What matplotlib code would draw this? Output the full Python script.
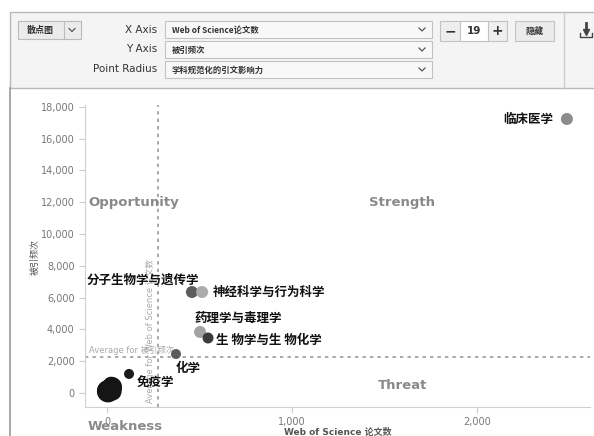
import matplotlib.pyplot as plt
from matplotlib.patches import Rectangle
from matplotlib.ticker import FuncFormatter

plt.rcParams['font.family'] = ['DejaVu Sans', 'Noto Sans CJK SC']
CJK = ['Noto Sans CJK SC', 'DejaVu Sans']

# data
subjects = ['临床医学', '分子生物学与遗传学', '神经科学与行为科学', '药理学与毒理学',
            '生 物学与生 物化学', '化学', '免疫学']
papers = [2486, 459, 514, 503, 546, 373, 119]
cites = [17230, 6350, 6350, 3840, 3460, 2450, 1200]
cnci = [1.2, 1.2, 1.2, 1.2, 1.1, 1.0, 1.0]

# unlabelled subjects crowded near the origin
small_papers = [5, 12, 20, 27, 35, 8, 15, 3, 40, 22, 10, 30]
small_cites = [100, 250, 180, 380, 300, 60, 420, 150, 200, 520, 330, 90]
small_cnci = [2.2, 1.8, 2.0, 2.0, 1.6, 1.9, 1.5, 2.1, 1.4, 1.6, 1.7, 1.8]

avg_papers = 276
avg_cites = 2264

# styles
colors = ['#8c8c8c', '#5c5c5c', '#ababab', '#a3a3a3', '#3c3c3c', '#5c5c5c', '#1c1c1c']
label_off = [(-14, 0, 'right'), (7, 12, 'right'), (11, 0, 'left'), (-6, 13, 'left'),
             (8, -2, 'left'), (0, -14, 'left'), (8, -9, 'left')]


def size(c):
    r = 5 * c  # radius in px
    return (2 * r * 0.72) ** 2


fig = plt.figure(figsize=(5.94, 4.36), dpi=100)

# ---- toolbar drawn in pixel coordinates
ui = fig.add_axes([0, 0, 1, 1])
ui.set_xlim(0, 594)
ui.set_ylim(436, 0)
ui.axis('off')

ui.add_patch(Rectangle((10, 12), 600, 76, facecolor='#f4f4f4', edgecolor='#b8b8b8', lw=1))
ui.plot([564, 564], [12, 88], color='#cccccc', lw=1)
ui.plot([10, 10], [88, 436], color='#999999', lw=1.2)

# chart-type dropdown
ui.add_patch(Rectangle((18, 21), 63, 18, facecolor='#ebebeb', edgecolor='#bbbbbb', lw=0.8))
ui.plot([64, 64], [21, 39], color='#bbbbbb', lw=0.8)
ui.text(40, 30.5, '散点图', family=CJK, fontsize=6.5, weight='bold', color='#333333',
        ha='center', va='center')


def chevron(x, y):
    ui.plot([x - 3, x, x + 3], [y - 1.5, y + 1.5, y - 1.5], color='#555555', lw=0.9)


chevron(72, 30)

for lab, y in zip(['X Axis', 'Y Axis', 'Point Radius'], [30, 49.5, 69.5]):
    ui.text(157, y, lab, fontsize=7.5, color='#333333', ha='right', va='center')

for txt, (y0, y1) in zip(['Web of Science论文数', '被引频次', '学科规范化的引文影响力'],
                         [(21, 38), (41, 58), (61, 78)]):
    ui.add_patch(Rectangle((165, y0), 267, y1 - y0, facecolor='#f8f8f8',
                           edgecolor='#c2c2c2', lw=0.8))
    ui.text(172, (y0 + y1) / 2 + 0.5, txt, family=CJK, fontsize=6, weight='bold',
            color='#333333', va='center')
    chevron(422, (y0 + y1) / 2)

# stepper
ui.add_patch(Rectangle((440, 21), 67, 20, facecolor='#eeeeee', edgecolor='#c2c2c2', lw=0.8))
ui.add_patch(Rectangle((460, 21), 28, 20, facecolor='white', edgecolor='#c2c2c2', lw=0.8))
ui.text(450, 31.5, '−', fontsize=10, weight='bold', color='#333333', ha='center', va='center')
ui.text(474, 31, '19', fontsize=7.5, weight='bold', color='#333333', ha='center', va='center')
ui.text(497, 31, '+', fontsize=10, weight='bold', color='#333333', ha='center', va='center')

ui.add_patch(Rectangle((515, 21), 39, 20, facecolor='#ebebeb', edgecolor='#c2c2c2', lw=0.8))
ui.text(534.5, 31, '隐藏', family=CJK, fontsize=6.5, weight='bold', color='#333333',
        ha='center', va='center')

# download icon
ui.plot([586, 586], [23, 31], color='#444444', lw=2)
ui.plot([586], [32], marker='v', color='#444444', markersize=5)
ui.plot([580, 580, 592, 592], [33, 37, 37, 33], color='#444444', lw=1)

# ---- scatter chart
ax = fig.add_axes([85 / 594, 29 / 436, 505 / 594, 302 / 436])
ax.set_facecolor('none')
ax.set_xlim(-119, 2611)
ax.set_ylim(-880, 18110)

for s in ['top', 'right']:
    ax.spines[s].set_visible(False)
for s in ['left', 'bottom']:
    ax.spines[s].set_color('#d0d0d0')

ax.set_xticks([0, 1000, 2000])
ax.set_yticks(range(0, 18001, 2000))
fmt = FuncFormatter(lambda v, p: f'{v:,.0f}')
ax.xaxis.set_major_formatter(fmt)
ax.yaxis.set_major_formatter(fmt)
ax.tick_params(colors='#cccccc', labelcolor='#777777', labelsize=7, length=4, width=0.8)

ax.axvline(avg_papers, color='#999999', lw=1.2, ls=(0, (2, 2.5)), zorder=1)
ax.axhline(avg_cites, color='#999999', lw=1.2, ls=(0, (2, 2.5)), zorder=1)
ax.text(-97, 2700, 'Average for 被引频次', fontsize=6, color='#aaaaaa', va='center')
ax.text(232, -600, 'Average for Web of Science 论文数', fontsize=6, color='#aaaaaa',
        rotation=90, ha='center', va='bottom')

ax.scatter(small_papers, small_cites, s=[size(c) for c in small_cnci],
           color='#151515', edgecolor='none', zorder=3)
ax.scatter(papers, cites, s=[size(c) for c in cnci], c=colors, edgecolor='none', zorder=3)

for name, x, y, (dx, dy, ha) in zip(subjects, papers, cites, label_off):
    ax.annotate(name, (x, y), xytext=(dx * 0.72, dy * 0.72), textcoords='offset points',
                ha=ha, va='center', family=CJK, fontsize=9, weight='bold',
                color='#111111', zorder=4)

quad = dict(fontsize=9.5, weight='bold', color='#8a8a8a', va='center')
ax.text(-103, 12000, 'Opportunity', ha='left', **quad)
ax.text(1595, 12000, 'Strength', ha='center', **quad)
ax.text(1600, 500, 'Threat', ha='center', **quad)
ax.text(-103, -2075, 'Weakness', ha='left', clip_on=False, **quad)

fig.text(338 / 594, 1 - 432 / 436, 'Web of Science 论文数', fontsize=6.5, weight='bold',
         color='#555555', ha='center', va='center')
fig.text(35 / 594, 1 - 257 / 436, '被引频次', family=CJK, fontsize=6.5, color='#555555',
         rotation=90, ha='center', va='center')

fig.savefig('out.png', dpi=100)
